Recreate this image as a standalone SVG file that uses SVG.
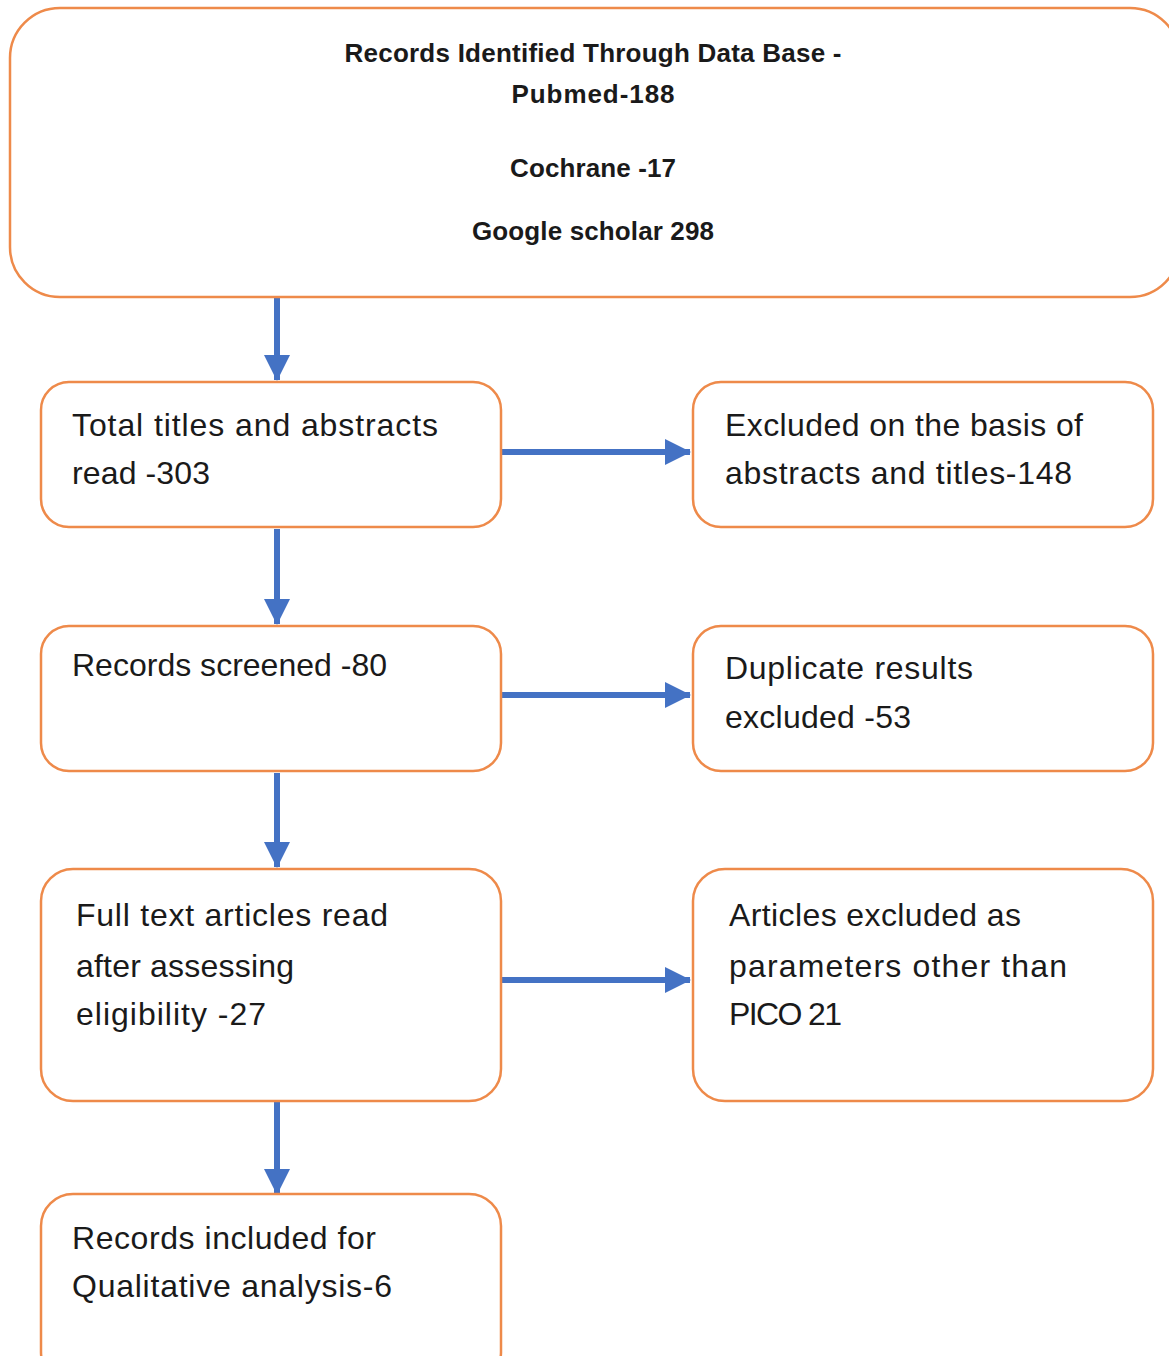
<svg xmlns="http://www.w3.org/2000/svg" width="1169" height="1356" viewBox="0 0 1169 1356">
<style>
.box{fill:#fff;stroke:#EE8A4A;stroke-width:2.5}
.t{font-family:"Liberation Sans",Arial,sans-serif;font-size:32px;fill:#1a1a1a}
.h{font-family:"Liberation Sans",Arial,sans-serif;font-size:26px;font-weight:bold;fill:#1a1a1a;text-anchor:middle}
.c{stroke:#4472C4;stroke-width:6;fill:none}
</style>
<defs>
<marker id="ah" markerUnits="userSpaceOnUse" markerWidth="26" markerHeight="26" refX="25" refY="13" orient="auto">
<path d="M0,0 L26,13 L0,26 Z" fill="#4472C4"/>
</marker>
</defs>
<rect width="1169" height="1356" fill="#fff"/>
<g id="connectors">
<line class="c" x1="277" y1="298" x2="277" y2="380" marker-end="url(#ah)"/>
<line class="c" x1="502" y1="452" x2="690" y2="452" marker-end="url(#ah)"/>
<line class="c" x1="277" y1="529" x2="277" y2="624" marker-end="url(#ah)"/>
<line class="c" x1="502" y1="695" x2="690" y2="695" marker-end="url(#ah)"/>
<line class="c" x1="277" y1="773" x2="277" y2="867" marker-end="url(#ah)"/>
<line class="c" x1="502" y1="980" x2="690" y2="980" marker-end="url(#ah)"/>
<line class="c" x1="277" y1="1102" x2="277" y2="1194" marker-end="url(#ah)"/>
</g>
<g id="n1">
<rect class="box" x="10" y="8" width="1170" height="289" rx="50"/>
<text class="h" x="593" y="62" textLength="497">Records Identified Through Data Base -</text>
<text class="h" x="593" y="103" textLength="163">Pubmed-188</text>
<text class="h" x="593" y="177" textLength="166">Cochrane -17</text>
<text class="h" x="593" y="240" textLength="242">Google scholar 298</text>
</g>
<g id="n2">
<rect class="box" x="41" y="382" width="460" height="145" rx="28"/>
<text class="t" x="72" y="436" textLength="366">Total titles and abstracts</text>
<text class="t" x="72" y="484" textLength="138">read -303</text>
</g>
<g id="n3">
<rect class="box" x="693" y="382" width="460" height="145" rx="28"/>
<text class="t" x="725" y="436" textLength="358">Excluded on the basis of</text>
<text class="t" x="725" y="484" textLength="347">abstracts and titles-148</text>
</g>
<g id="n4">
<rect class="box" x="41" y="626" width="460" height="145" rx="28"/>
<text class="t" x="72" y="676" textLength="315">Records screened -80</text>
</g>
<g id="n5">
<rect class="box" x="693" y="626" width="460" height="145" rx="28"/>
<text class="t" x="725" y="679" textLength="248">Duplicate results</text>
<text class="t" x="725" y="728" textLength="186">excluded -53</text>
</g>
<g id="n6">
<rect class="box" x="41" y="869" width="460" height="232" rx="32"/>
<text class="t" x="76" y="926" textLength="312">Full text articles read</text>
<text class="t" x="76" y="977" textLength="218">after assessing</text>
<text class="t" x="76" y="1025" textLength="190">eligibility -27</text>
</g>
<g id="n7">
<rect class="box" x="693" y="869" width="460" height="232" rx="32"/>
<text class="t" x="729" y="926" textLength="292">Articles excluded as</text>
<text class="t" x="729" y="977" textLength="338">parameters other than</text>
<text class="t" x="729" y="1025" textLength="113">PICO 21</text>
</g>
<g id="n8">
<rect class="box" x="41" y="1194" width="460" height="190" rx="32"/>
<text class="t" x="72" y="1249" textLength="304">Records included for</text>
<text class="t" x="72" y="1297" textLength="320">Qualitative analysis-6</text>
</g>
</svg>
